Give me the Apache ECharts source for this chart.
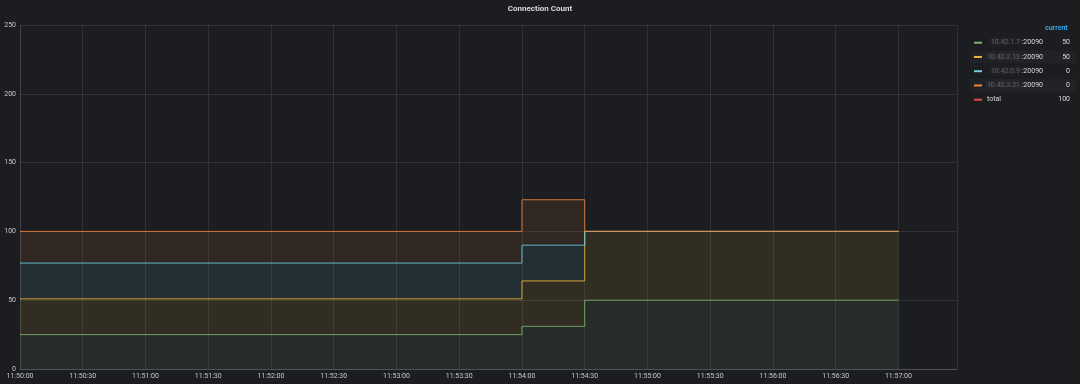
<!DOCTYPE html>
<html>
<head>
<meta charset="utf-8">
<script src="https://cdn.jsdelivr.net/npm/echarts@6/dist/echarts.min.js"></script>
<style>
html,body{margin:0;padding:0;background:#1c1d21;}
#chart{width:1080px;height:384px;}
</style>
</head>
<body>
<div id="chart"></div>
<script>
// ---- data ----
var times = ['11:50:00', '11:54:00', '11:54:30', '11:57:00'];
var seriesNames = ['10.42.1.7', '10.42.2.13', '10.42.0.9', '10.42.3.21'];
var portSuffix = ':20090';
var greenVals  = [25, 31, 50, 50];
var yellowVals = [26, 33, 50, 50];
var blueVals   = [26, 26, 0, 0];
var orangeVals = [23, 33, 0, 0];
var yTicks = [0, 50, 100, 150, 200, 250];
var xStart = '11:50:00';
var xEnd = '11:57:28';
var totalName = 'total';
var legendHeader = 'current';
var title = 'Connection Count';

var colors = ['#7EB26D', '#EAB839', '#6ED0E0', '#EF843C', '#E24D42'];

function toTs(t) {
  var p = t.split(':').map(Number);
  return Date.UTC(2020, 0, 1, p[0], p[1], p[2]);
}
function pad(n){ return (n < 10 ? '0' : '') + n; }
function fmt(v) {
  var d = new Date(v);
  return pad(d.getUTCHours()) + ':' + pad(d.getUTCMinutes()) + ':' + pad(d.getUTCSeconds());
}

var allVals = [greenVals, yellowVals, blueVals, orangeVals];
var series = allVals.map(function (vals, i) {
  return {
    name: seriesNames[i] + portSuffix,
    type: 'line',
    stack: 'total',
    step: 'end',
    symbol: 'none',
    // value first so that the stacked dimension is the y value
    encode: { x: 1, y: 0 },
    data: times.map(function (t, j) { return [vals[j], toTs(t)]; }),
    lineStyle: { width: 1, color: colors[i], opacity: 0.85 },
    itemStyle: { color: colors[i] },
    areaStyle: { color: colors[i], opacity: 0.1 },
    emphasis: { disabled: true },
    animation: false
  };
});

// legend via graphic
var font = 'Roboto, "DejaVu Sans", sans-serif';
var graphics = [];
var rowY0 = 42.7, rowH = 14.25;
graphics.push({
  type: 'text', left: 1045, top: 25,
  style: { text: legendHeader, fill: '#33a2e5', font: 'bold 7px ' + font }
});
var lastVals = allVals.map(function (v) { return v[v.length - 1]; });
var total = lastVals.reduce(function (a, b) { return a + b; }, 0);
var rows = seriesNames.map(function (n, i) { return { prefix: n, suffix: portSuffix, val: lastVals[i], color: colors[i] }; });
rows.push({ prefix: '', suffix: '', label: totalName, val: total, color: colors[4] });
rows.forEach(function (r, i) {
  var y = rowY0 + i * rowH;
  if (i % 2 === 1) {
    graphics.push({ type: 'rect', shape: { x: 970, y: y - 6.5, width: 106, height: 13 },
      style: { fill: 'rgba(255,255,255,0.025)' }, silent: true });
  }
  graphics.push({ type: 'rect', shape: { x: 974, y: y - 1, width: 8, height: 2 }, style: { fill: r.color }, silent: true });
  if (r.label) {
    graphics.push({ type: 'text', x: 987, y: y, style: { text: r.label, fill: '#d8d9da', font: '7px ' + font, textVerticalAlign: 'middle' } });
  } else {
    graphics.push({ type: 'text', x: 1020, y: y, style: { text: r.prefix, fill: 'rgba(150,151,156,0.5)', font: '7px ' + font,
      textAlign: 'right', textVerticalAlign: 'middle', textShadowColor: 'rgba(170,170,175,0.9)', textShadowBlur: 5 } });
    graphics.push({ type: 'text', x: 1043, y: y, style: { text: r.suffix, fill: '#d8d9da', font: '7px ' + font, textAlign: 'right', textVerticalAlign: 'middle' } });
  }
  graphics.push({ type: 'text', x: 1070, y: y, style: { text: String(r.val), fill: '#d8d9da', font: '7px ' + font, textAlign: 'right', textVerticalAlign: 'middle' } });
});

var chart = echarts.init(document.getElementById('chart'), null, { renderer: 'canvas' });
chart.setOption({
  backgroundColor: '#1c1d21',
  animation: false,
  title: {
    text: title, left: 'center', top: 0,
    textStyle: { color: '#d8d9da', fontSize: 8, fontWeight: 'bold', fontFamily: font }
  },
  grid: { left: 20, right: 123, top: 25, bottom: 15 },
  xAxis: {
    type: 'value',
    min: toTs(xStart), max: toTs(xEnd), interval: 30000,
    axisLine: { show: true, lineStyle: { color: 'rgba(255,255,255,0.16)' } },
    axisTick: { show: false },
    splitLine: { show: true, lineStyle: { color: 'rgba(255,255,255,0.09)', width: 1 } },
    axisLabel: { color: '#c7c8cc', fontSize: 7, fontFamily: font, margin: 4, formatter: fmt, showMaxLabel: false }
  },
  yAxis: {
    type: 'value',
    min: yTicks[0], max: yTicks[yTicks.length - 1], interval: yTicks[1] - yTicks[0],
    axisLine: { show: true, lineStyle: { color: 'rgba(255,255,255,0.09)' } },
    axisTick: { show: false },
    splitLine: { show: true, lineStyle: { color: 'rgba(255,255,255,0.09)', width: 1 } },
    axisLabel: { color: '#c7c8cc', fontSize: 7, fontFamily: font, margin: 4 }
  },
  series: series,
  graphic: graphics
});
</script>
</body>
</html>
